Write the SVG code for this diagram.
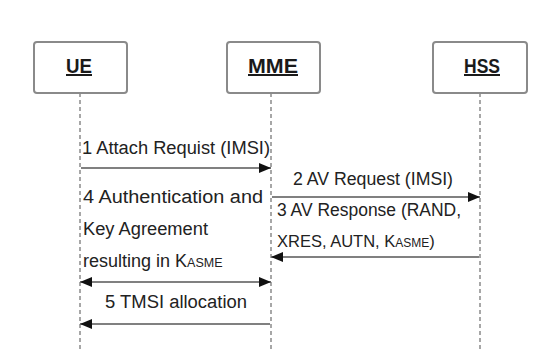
<svg xmlns="http://www.w3.org/2000/svg" width="543" height="358" viewBox="0 0 543 358">
<style>
.box{fill:#fff;stroke:#8a8a8a;stroke-width:2}
.title{font-family:"Liberation Sans",Arial,sans-serif;font-size:20px;font-weight:bold;fill:#1a1a1a;text-decoration:underline;text-anchor:middle}
.life{stroke:#8a8a8a;stroke-width:1.5;stroke-dasharray:4 3;fill:none}
.msg{stroke:#808080;stroke-width:2;fill:none}
.lbl{font-family:"Liberation Sans",Arial,sans-serif;font-size:18px;fill:#222}
.sc{font-size:12.5px}
</style>
<defs>
<marker id="ah" viewBox="0 0 12 10" refX="12" refY="5" markerWidth="12" markerHeight="10" markerUnits="userSpaceOnUse" orient="auto-start-reverse">
<path d="M0,0 L12,5 L0,10 Z" fill="#111"/>
</marker>
</defs>
<rect width="543" height="358" fill="#fff"/>
<g id="UE">
<rect class="box" x="34" y="42" width="93" height="51" rx="3"/>
<text class="title" x="79" y="73" textLength="26" lengthAdjust="spacingAndGlyphs">UE</text>
</g>
<g id="MME">
<rect class="box" x="227" y="42" width="93" height="51" rx="3"/>
<text class="title" x="273" y="73" textLength="50" lengthAdjust="spacingAndGlyphs">MME</text>
</g>
<g id="HSS">
<rect class="box" x="433" y="42" width="94" height="51" rx="3"/>
<text class="title" x="482" y="73" textLength="36" lengthAdjust="spacingAndGlyphs">HSS</text>
</g>
<g id="lifelines">
<line class="life" x1="80" y1="93" x2="80" y2="352"/>
<line class="life" x1="271" y1="93" x2="271" y2="352"/>
<line class="life" x1="480" y1="93" x2="480" y2="352"/>
</g>
<g id="connectors">
<line class="msg" x1="81" y1="168" x2="271" y2="168" marker-end="url(#ah)"/>
<line class="msg" x1="272" y1="197" x2="480" y2="197" marker-end="url(#ah)"/>
<line class="msg" x1="479" y1="257" x2="271" y2="257" marker-end="url(#ah)"/>
<line class="msg" x1="80" y1="282" x2="271" y2="282" marker-start="url(#ah)" marker-end="url(#ah)"/>
<line class="msg" x1="270" y1="324" x2="80" y2="324" marker-end="url(#ah)"/>
</g>
<g id="labels">
<text class="lbl" x="82" y="154" textLength="188" lengthAdjust="spacingAndGlyphs">1 Attach Requist (IMSI)</text>
<text class="lbl" x="293" y="185" textLength="160" lengthAdjust="spacingAndGlyphs">2 AV Request (IMSI)</text>
<text class="lbl" x="277" y="216" textLength="184" lengthAdjust="spacingAndGlyphs">3 AV Response (RAND,</text>
<text class="lbl" x="277" y="247" style="font-size:16.5px">XRES, AUTN, K<tspan style="font-size:12px">ASME</tspan>)</text>
<text class="lbl" x="83" y="203" textLength="180" lengthAdjust="spacingAndGlyphs">4 Authentication and</text>
<text class="lbl" x="83" y="234.5" textLength="125" lengthAdjust="spacingAndGlyphs">Key Agreement</text>
<text class="lbl" x="83" y="266.5">resulting in K<tspan class="sc">ASME</tspan></text>
<text class="lbl" x="105" y="308" textLength="142" lengthAdjust="spacingAndGlyphs">5 TMSI allocation</text>
</g>
</svg>
